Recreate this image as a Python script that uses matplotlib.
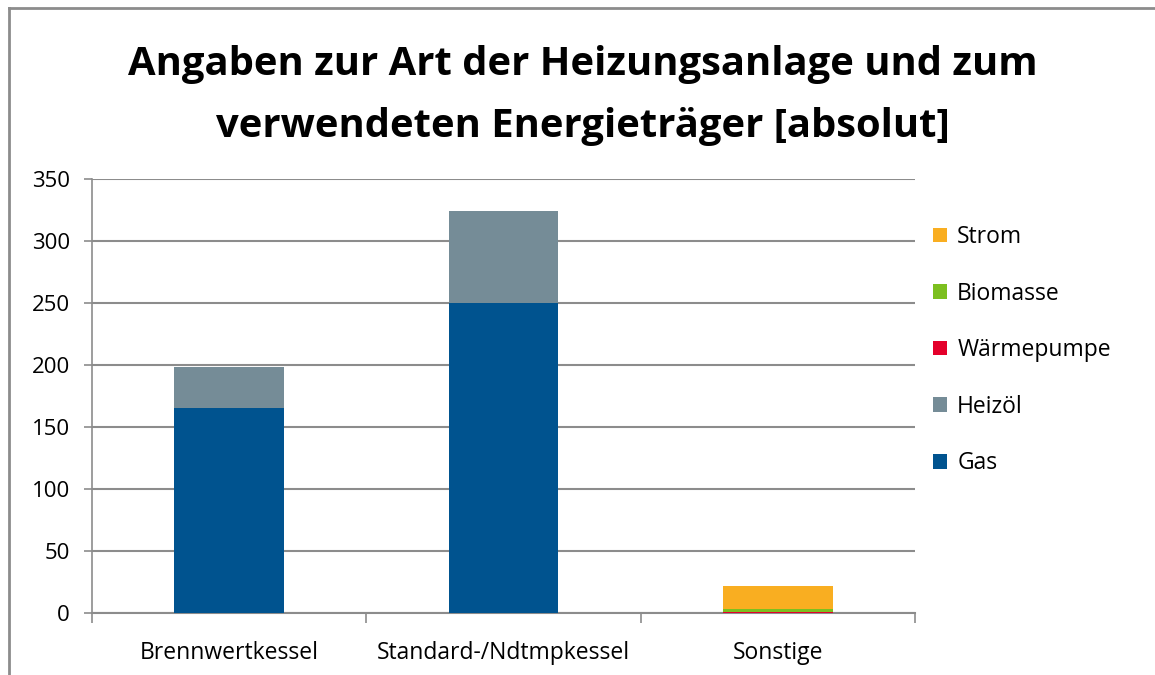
import matplotlib
matplotlib.use("Agg")
import matplotlib.pyplot as plt
from matplotlib.lines import Line2D
import numpy as np

plt.rcParams['font.family'] = ['Open Sans', 'DejaVu Sans']

categories = ["Brennwertkessel", "Standard-/Ndtmpkessel", "Sonstige"]
series_names = ["Gas", "Heizöl", "Wärmepumpe", "Biomasse", "Strom"]
gas = [165, 250, 0]
heizoel = [33, 74, 0]
waermepumpe = [0, 0, 1]
biomasse = [0, 0, 2]
strom = [0, 0, 19]
colors = ["#00538F", "#758C97", "#E4002B", "#7CBF1F", "#F9AE21"]
yticks = [0, 50, 100, 150, 200, 250, 300, 350]

W, H = 1155, 675
fig = plt.figure(figsize=(W / 100, H / 100), dpi=100)
ax = fig.add_axes([92 / W, 1 - 613 / H, (915 - 92) / W, (613 - 179) / H])

x = np.arange(len(categories))
bottom = np.zeros(len(categories))
handles = []
for name, vals, c in zip(series_names, [gas, heizoel, waermepumpe, biomasse, strom], colors):
    b = ax.bar(x, vals, width=0.4, bottom=bottom, color=c, label=name, zorder=3)
    bottom += np.array(vals)
    handles.append(b)

ax.set_xlim(-0.5, 2.5)
ax.set_ylim(0, 350)
ax.set_yticks(yticks)
ax.set_yticklabels([str(v) for v in yticks], fontsize=16)
ax.yaxis.grid(True, color="#8C8C8C", linewidth=1.5, zorder=0)
ax.set_xticks(x)
ax.set_xticklabels(categories, fontsize=16.5)
ax.tick_params(axis='x', length=0, pad=20)
ax.set_xticks([-0.5, 0.5, 1.5, 2.5], minor=True)
ax.tick_params(axis='x', which='minor', length=7, color="#8C8C8C", width=1.2)
ax.tick_params(axis='y', length=6, color="#8C8C8C", width=1.2, pad=10)
for s in ["top", "right"]:
    ax.spines[s].set_visible(False)
ax.spines["left"].set_color("#8C8C8C")
ax.spines["left"].set_linewidth(1.2)
ax.spines["bottom"].set_color("#8C8C8C")
ax.spines["bottom"].set_linewidth(1.5)

leg = fig.legend(handles[::-1], series_names[::-1], loc="upper left",
                 bbox_to_anchor=(924 / W, 1 - 216 / H), frameon=False,
                 fontsize=16.5, handlelength=0.6, handleheight=0.6,
                 labelspacing=1.42, handletextpad=0.45, borderaxespad=0)

fig.text(0.505, 1 - 65 / H, "Angaben zur Art der Heizungsanlage und zum",
         ha="center", va="center", fontsize=28.8, fontweight="bold")
fig.text(0.505, 1 - 126 / H, "verwendeten Energieträger [absolut]",
         ha="center", va="center", fontsize=28.8, fontweight="bold")

# chart border
fig.add_artist(Line2D([9 / W, 9 / W], [0, 1 - 8 / H], transform=fig.transFigure,
                      color="#8C8C8C", linewidth=2))
fig.add_artist(Line2D([9 / W, 1], [1 - 8 / H, 1 - 8 / H], transform=fig.transFigure,
                      color="#8C8C8C", linewidth=2))

fig.savefig("out.png", dpi=100)
